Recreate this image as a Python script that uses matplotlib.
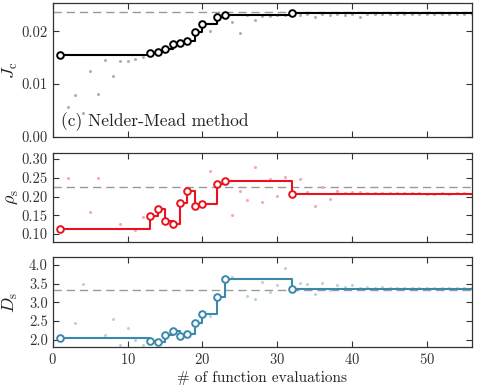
import numpy as np
import matplotlib
matplotlib.use("Agg")
import matplotlib.pyplot as plt

plt.rcParams["font.family"] = ["cmr10", "DejaVu Serif"]
plt.rcParams["mathtext.fontset"] = "cm"
plt.rcParams["axes.formatter.use_mathtext"] = True
plt.rcParams["axes.unicode_minus"] = False

# evaluation index and the three quantities at every evaluation
evals = np.arange(1, 57)
jc = [0.01547, 0.0056, 0.0079, 0.0045, 0.0125, 0.0081, 0.01453, 0.01145, 0.01428, 0.0144,
      0.01478, 0.0151, 0.0158, 0.0160, 0.01655, 0.0175, 0.01768, 0.01817, 0.01988, 0.02126,
      0.0200, 0.0227, 0.02308, 0.02164, 0.01956, 0.0230, 0.0222, 0.02289, 0.02283, 0.0230,
      0.0230, 0.02352, 0.0230, 0.0233, 0.0227, 0.0232, 0.0231, 0.0232, 0.0231, 0.0233,
      0.0227, 0.0232, 0.0232, 0.0232, 0.0233, 0.0233, 0.0232, 0.0232, 0.0233, 0.0232,
      0.0233, 0.0233, 0.0233, 0.0233, 0.0233, 0.0233]
rho = [0.113, 0.250, np.nan, np.nan, 0.158, 0.250, np.nan, np.nan, 0.127, np.nan,
       0.111, 0.147, 0.149, 0.167, 0.134, 0.127, 0.182, 0.216, 0.176, 0.181,
       0.268, 0.234, 0.242, 0.151, 0.216, 0.190, 0.278, 0.187, 0.246, 0.202,
       0.253, 0.208, 0.246, 0.212, 0.174, 0.226, 0.195, 0.216, 0.209, 0.212,
       0.212, 0.209, 0.210, 0.210, 0.210, 0.209, 0.209, 0.209, 0.210, 0.208,
       0.207, 0.209, 0.208, 0.209, 0.209, 0.208]
ds = [2.035, np.nan, 2.447, 3.48, np.nan, np.nan, 2.134, 2.554, 1.85, 2.313,
      1.98, 1.866, 1.955, 1.928, 2.115, 2.222, 2.107, 2.152, 2.43, 2.688,
      2.624, 3.133, 3.626, 3.68, np.nan, 3.16, 3.09, 3.545, 3.267, 3.473,
      3.92, 3.358, 3.518, 3.49, 3.224, 3.518, 3.32, 3.473, 3.41, 3.45,
      3.37, 3.40, 3.39, 3.40, 3.39, 3.38, 3.39, 3.38, 3.39, 3.37,
      3.37, 3.39, 3.37, 3.38, 3.37, 3.38]

# reference (target) values shown as dashed lines
jc_ref = 0.02364
rho_ref = 0.2255
ds_ref = 3.331

jc_arr = np.array(jc)
# evaluations that improved the best-so-far objective
best_idx = [i for i in range(len(jc_arr)) if i == 0 or jc_arr[i] > jc_arr[:i].max()]

panels = [
    (jc, jc_ref, "black", "#b0b0b0", r"$J_\mathrm{c}$", (0, 0.0253),
     [0, 0.01, 0.02], "{:.2f}"),
    (rho, rho_ref, "#e8131c", "#f7a8ad", r"$\rho_\mathrm{s}$", (0.0787, 0.3167),
     [0.10, 0.15, 0.20, 0.25, 0.30], "{:.2f}"),
    (ds, ds_ref, "#3a88aa", "#b3d6e3", r"$D_\mathrm{s}$", (1.804, 4.214),
     [2.0, 2.5, 3.0, 3.5, 4.0], "{:.1f}"),
]

fig = plt.figure(figsize=(4.8, 3.88), dpi=100)
boxes = [(0.110, 0.647, 0.873, 0.345),
         (0.110, 0.376, 0.873, 0.230),
         (0.110, 0.106, 0.873, 0.232)]

for k, (vals, ref, col, light, lab, ylim, yt, fmt) in enumerate(panels):
    ax = fig.add_axes(boxes[k])
    vals = np.array(vals)
    ax.axhline(ref, color="#999999", ls=(0, (6, 3.5)), lw=1.0, zorder=1)
    ax.plot(evals, vals, "o", ms=2.2, color=light, mec="none", zorder=2)

    bx = evals[best_idx]
    by = vals[best_idx]
    sx = np.append(bx, evals[-1])
    sy = np.append(by, by[-1])
    ax.plot(sx, sy, drawstyle="steps-post", color=col, lw=1.5, zorder=3)
    ax.plot(bx, by, "o", ms=4.8, mfc="white", mec=col, mew=1.4, zorder=4)

    ax.set_xlim(0, 56)
    ax.set_ylim(*ylim)
    ax.set_yticks(yt)
    ax.set_yticklabels([fmt.format(v) for v in yt])
    ax.set_xticks([0, 10, 20, 30, 40, 50])
    ax.set_ylabel(lab, fontsize=13, color="#222222")
    ax.yaxis.set_label_coords(-0.078, 0.5)
    ax.tick_params(direction="in", top=True, right=True, length=4, width=0.8,
                   labelsize=10.5, colors="#333333")
    for sp in ax.spines.values():
        sp.set_color("#333333")
        sp.set_linewidth(0.9)
    if k < 2:
        ax.tick_params(labelbottom=False)
    else:
        ax.set_xlabel("# of function evaluations", fontsize=11, color="#222222",
                      labelpad=3)
    if k == 0:
        ax.text(0.02, 0.045, "(c) Nelder-Mead method", transform=ax.transAxes,
                fontsize=12.5, color="#222222", ha="left", va="bottom")

fig.savefig("out.png", dpi=100)
